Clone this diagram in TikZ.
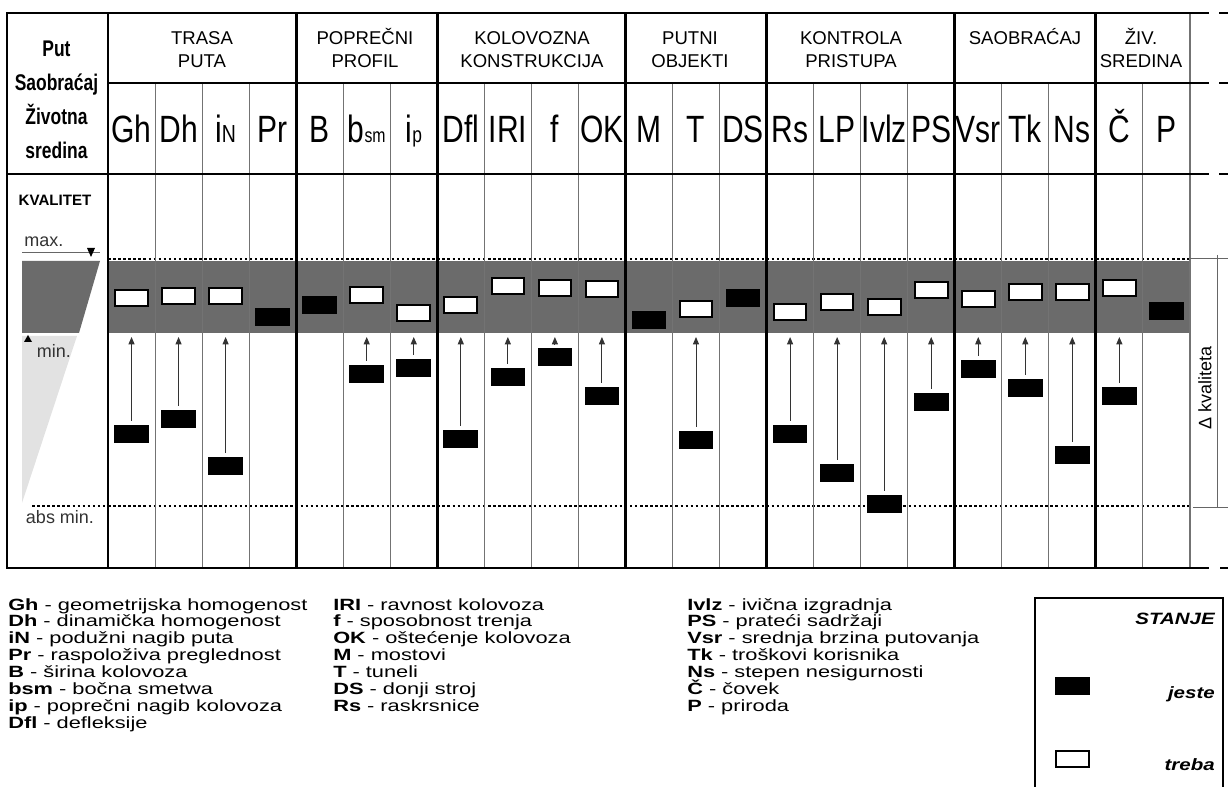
\documentclass[tikz,border=0pt]{standalone}
\usepackage{fontspec}
\setmainfont{Liberation Sans}
\newfontfamily\nfont[FakeStretch=0.79]{Liberation Sans}
\newfontfamily\nbfont[FakeStretch=0.77]{Liberation Sans Bold}
\newfontfamily\legfont[FakeStretch=1.34]{Liberation Sans}
\newfontfamily\bifont[FakeStretch=1.25]{Liberation Sans Bold Italic}
\usetikzlibrary{arrows.meta}
\definecolor{band}{HTML}{6B6B6B}
\definecolor{lite}{HTML}{E2E2E2}
\tikzset{
  thickln/.style={line width=2.2pt, line cap=rect},
  thinln/.style={line width=0.8pt, black!55},
  dotln/.style={line width=1.5pt, dash pattern=on 1.9pt off 1.9pt},
  dimln/.style={line width=0.7pt, black!60},
  wbox/.style={draw=black, line width=1.5pt, fill=white, minimum width=24.5pt, minimum height=11.5pt, inner sep=0pt},
  bbox/.style={fill=black, minimum width=26pt, minimum height=13.5pt, inner sep=0pt},
  arr/.style={-{Triangle[length=5.5pt,width=4.5pt]}, line width=0.7pt, black!80},
  sym/.style={font=\nfont\fontsize{28.5pt}{30pt}\selectfont, anchor=base, inner sep=0pt},
  grp/.style={font=\fontsize{13.9pt}{16pt}\selectfont, anchor=base, inner sep=0pt},
  lbl/.style={font=\nbfont\fontsize{17pt}{18pt}\selectfont, anchor=base, inner sep=0pt},
  side/.style={font=\fontsize{13.5pt}{15pt}\selectfont, anchor=base, inner sep=0pt, text=black!80},
  leg/.style={font=\legfont\fontsize{12.2pt}{13pt}\selectfont, anchor=base west, inner sep=0pt},
  bit/.style={font=\bifont\fontsize{12.3pt}{13pt}\selectfont, anchor=base east, inner sep=0pt}
}
\begin{document}
\begin{tikzpicture}[x=0.75pt,y=-0.75pt]
\useasboundingbox (0,0) rectangle (1228,787);

% quality band and left scale
\fill[band] (108,261) rectangle (1190,333);
\fill[band] (22,261) -- (100,261) -- (79,333) -- (22,333) -- cycle;
\fill[lite] (22,336) -- (77,336) -- (22,503) -- cycle;

% dotted limits
\draw[dotln] (108,259) -- (1190,259);
\draw[dotln] (32,506) -- (1190,506);

% table lines
\foreach \k in {1,2,3,5,6,8,9,10,12,13,15,16,17,19,20,22}
  \draw[thinln] ({108+47.04*\k},83) -- ({108+47.04*\k},568);
\draw[thinln] (1190,13) -- (1190,568);
\foreach \k in {0,4,7,11,14,18,21}
  \draw[thickln] ({108+47.04*\k},13) -- ({108+47.04*\k},568);
\draw[thickln] (7,13) -- (7,568);
\draw[thickln] (7,13) -- (1208,13);
\draw[thickln] (108,83) -- (1208,83);
\draw[thickln] (7,174) -- (1208,174);
\draw[thickln] (7,568) -- (1208,568);
\draw[thickln] (1220,13) -- (1228,13);
\draw[thickln] (1220,83) -- (1228,83);
\draw[thickln] (1220,174) -- (1228,174);
\draw[thickln] (1221,568) -- (1228,568);

% delta dimension
\draw[dimln] (1190,258) -- (1228,258);
\draw[dimln] (1193,507) -- (1228,507);
\draw[dimln] (1217,255) -- (1217,507);
\node[rotate=90, font=\fontsize{13.5pt}{15pt}\selectfont, inner sep=0pt] (dk) at (1205,388) {Δ kvaliteta};

% left column
\node[lbl] (put) at (56.5,57) {Put};
\node[lbl] (sao) at (56.5,91) {Saobraćaj};
\node[lbl] (ziv) at (56.5,125) {Životna};
\node[lbl] (sre) at (56.5,159) {sredina};
\node[font=\bfseries\fontsize{11.3pt}{12pt}\selectfont, anchor=base, inner sep=0pt] (kv) at (55,206) {KVALITET};
\node[side] (max) at (44,247) {max.};
\draw[dimln] (22,252) -- (100,252);
\fill (87,248) -- (95,248) -- (91,257) -- cycle;
\fill (24,342) -- (32,342) -- (28,335) -- cycle;
\node[side] (min) at (54,358) {min.};
\node[side] (absmin) at (60,524) {abs min.};

% group headers
\foreach \x/\y/\t [count=\n] in {202/44.5/TRASA, 202/68/PUTA, 365/44.5/POPREČNI, 365/68/PROFIL,
  532/44.5/KOLOVOZNA, 532/68/KONSTRUKCIJA, 690/44.5/PUTNI, 690/68/OBJEKTI,
  851/44.5/KONTROLA, 851/68/PRISTUPA, 1025/44.5/SAOBRAĆAJ, 1141/44.5/ŽIV., 1141/68/SREDINA}
  \node[grp] (g\n) at (\x,\y) {\t};

% column symbols
\foreach \i/\lab in {0/Gh, 1/Dh,
  2/{i{\fontsize{18.5pt}{18.5pt}\selectfont N}},
  3/Pr, 4/B, 5/{b{\fontsize{15pt}{15pt}\selectfont sm}}, 6/{i{\fontsize{16.5pt}{16.5pt}\selectfont p}},
  7/Dfl, 8/IRI, 9/f, 10/OK, 11/M, 12/T, 13/DS, 14/Rs, 15/LP, 16/Ivlz, 17/PS,
  18/Vsr, 19/Tk, 20/Ns, 21/Č, 22/P}
  \node[sym] (h\i) at ({108+47.04*(\i+0.5)},143) {\lab};

% target (treba) boxes
\foreach \i/\y in {0/298, 1/296, 2/296, 5/295, 6/313, 7/305, 8/286, 9/288, 10/289,
  12/309, 14/312, 15/302, 16/307, 17/290, 18/299, 19/292, 20/292, 21/288}
  \node[wbox] (w\i) at ({108+47.04*(\i+0.5)},\y) {};

% actual (jeste) boxes
\foreach \i/\y in {0/434, 1/419, 2/466, 3/317, 4/305, 5/374, 6/368, 7/439, 8/377, 9/357,
  10/396, 11/320, 12/440, 13/298, 14/434, 15/473, 16/504, 17/402, 18/369, 19/388,
  20/455, 21/396, 22/311}
  \node[bbox] (b\i) at ({108+47.04*(\i+0.5)},\y) {};

% improvement arrows
\foreach \i in {0,1,2,5,6,7,8,9,10,12,14,15,16,17,18,19,20,21}{
  \coordinate (t\i) at ({108+47.04*(\i+0.5)},337);
  \draw[arr] ([yshift=3pt]b\i.north) -- (t\i);
}

% legend
\foreach \b/\t [count=\n] in {Gh/geometrijska homogenost, Dh/dinamička homogenost,
  iN/podužni nagib puta, Pr/raspoloživa preglednost, B/širina kolovoza,
  bsm/bočna smetwa, ip/poprečni nagib kolovoza, Dfl/defleksije}
  \node[leg] (la\n) at (8,{610+16.9*(\n-1)}) {\textbf{\b} - \t};
\foreach \b/\t [count=\n] in {IRI/ravnost kolovoza, f/sposobnost trenja,
  OK/oštećenje kolovoza, M/mostovi, T/tuneli, DS/donji stroj, Rs/raskrsnice}
  \node[leg] (lb\n) at (333,{610+16.9*(\n-1)}) {\textbf{\b} - \t};
\foreach \b/\t [count=\n] in {Ivlz/ivična izgradnja, PS/prateći sadržaji,
  Vsr/srednja brzina putovanja, Tk/troškovi korisnika, Ns/stepen nesigurnosti,
  Č/čovek, P/priroda}
  \node[leg] (lc\n) at (687,{610+16.9*(\n-1)}) {\textbf{\b} - \t};

% state legend box
\draw[line width=0.8pt] (1035,598) rectangle (1223,792);
\node[bit] (stanje) at (1215,624) {STANJE};
\node[bbox] (lgb) at (1072.5,686) {};
\node[bit] (jeste) at (1215,698) {jeste};
\node[wbox, minimum height=12.5pt] (lgw) at (1072.5,759) {};
\node[bit] (treba) at (1215,770) {treba};
\end{tikzpicture}
\end{document}
